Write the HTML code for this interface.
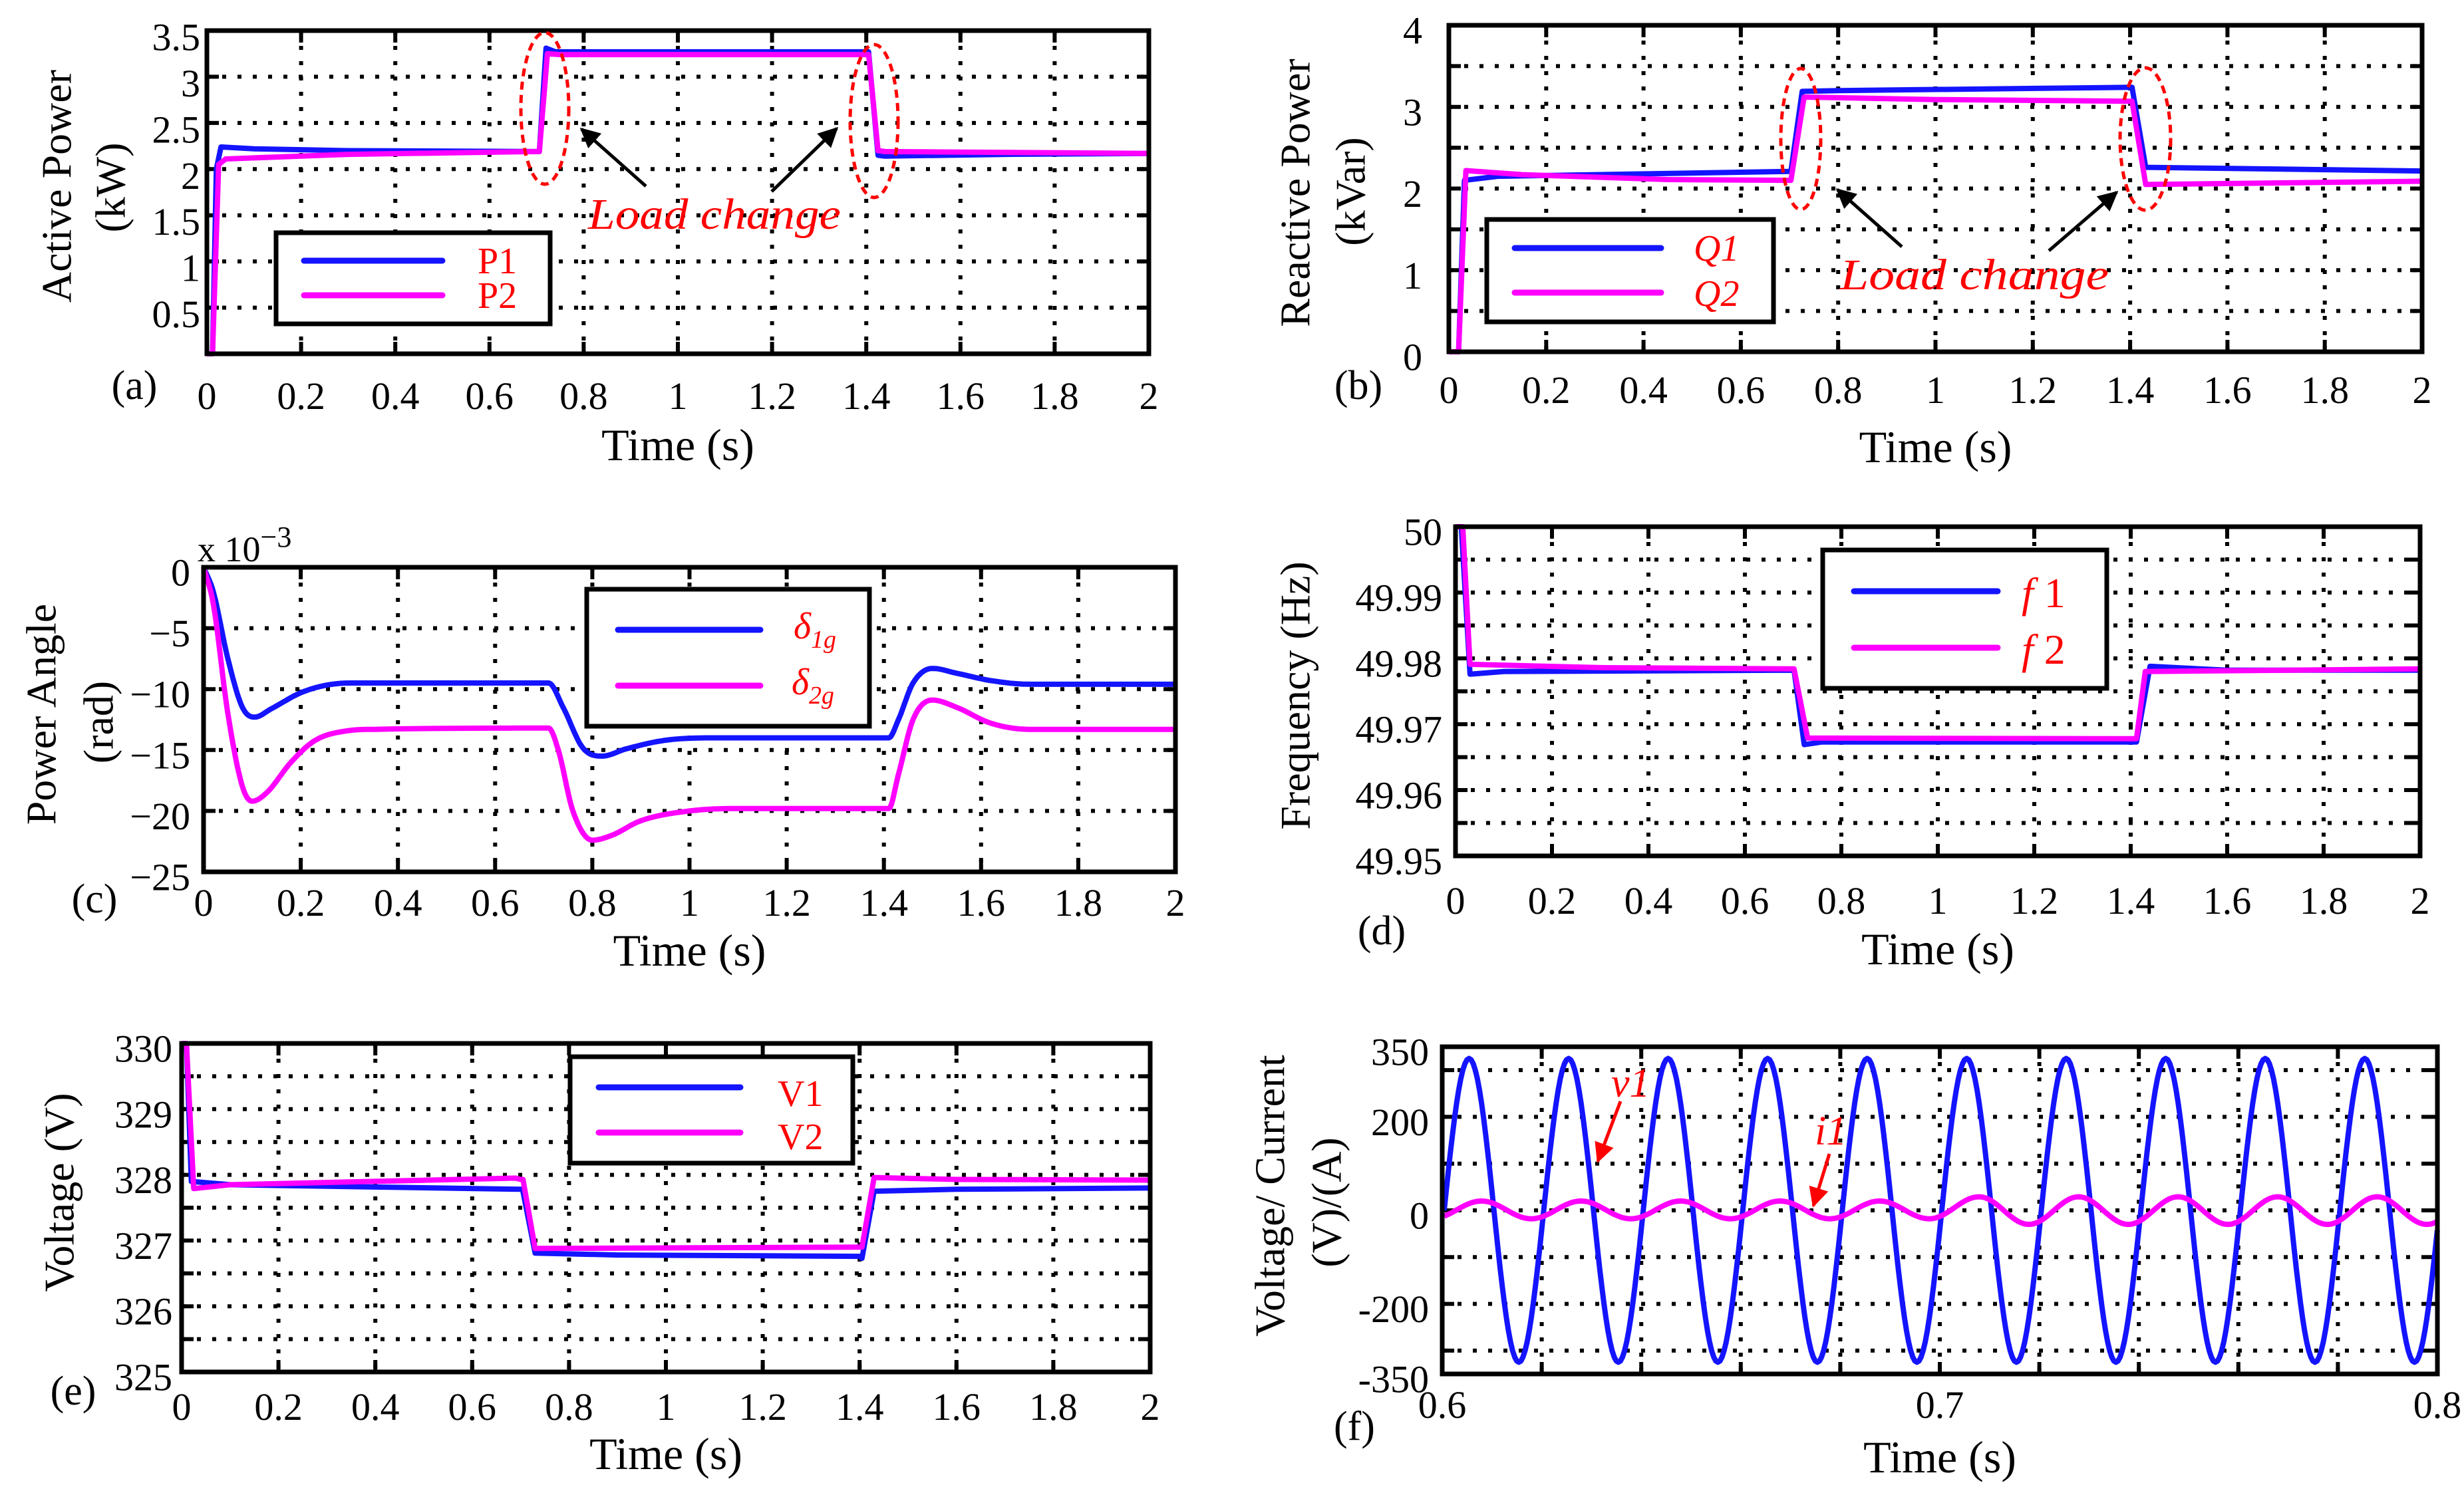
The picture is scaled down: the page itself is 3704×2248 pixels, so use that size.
<!DOCTYPE html>
<html><head><meta charset="utf-8"><style>
html,body{margin:0;padding:0;background:#fff;}
svg{display:block;font-family:"Liberation Serif","Times New Roman",serif;}
</style></head><body>
<svg id="fig" width="3704" height="2248" viewBox="0 0 3704 2248" xmlns="http://www.w3.org/2000/svg" font-family="Liberation Serif, serif">
<defs>
<marker id="ahk" viewBox="0 0 10 10" refX="9" refY="5" markerWidth="6" markerHeight="8" markerUnits="strokeWidth" orient="auto"><path d="M0,0 L10,5 L0,10 z" fill="#000"/></marker>
<marker id="ahr" viewBox="0 0 10 10" refX="9" refY="5" markerWidth="6" markerHeight="8" markerUnits="strokeWidth" orient="auto"><path d="M0,0 L10,5 L0,10 z" fill="#f00"/></marker>
</defs>
<rect x="0" y="0" width="3704" height="2248" fill="#fff"/>
</svg>
<script>
// ---------- data ----------
const xTicks02 = [0,0.2,0.4,0.6,0.8,1,1.2,1.4,1.6,1.8,2];
const xTickLabels02 = ['0','0.2','0.4','0.6','0.8','1','1.2','1.4','1.6','1.8','2'];
const xGrid02 = [0.2,0.4,0.6,0.8,1,1.2,1.4,1.6,1.8];

// (a) active power
const aYTicks = [0.5,1,1.5,2,2.5,3,3.5];
const aYTickLabels = ['0.5','1','1.5','2','2.5','3','3.5'];
const aYGrid = [0.5,1,1.5,2,2.5,3];
const aP1T = [0,0.012,0.02,0.03,0.1,0.3,0.7,0.706,0.72,0.74,1.0,1.4,1.405,1.425,1.44,1.7,2];
const aP1V = [0,0,2.0,2.24,2.22,2.2,2.19,2.19,3.31,3.27,3.27,3.27,3.27,2.15,2.14,2.16,2.17];
const aP2T = [0,0.012,0.025,0.04,0.3,0.7,0.706,0.723,0.75,1.4,1.405,1.425,1.44,2];
const aP2V = [0,0,2.05,2.11,2.16,2.19,2.19,3.25,3.24,3.24,3.24,2.2,2.19,2.17];

// (b) reactive power
const bYTicks = [0,1,2,3,4];
const bYTickLabels = ['0','1','2','3','4'];
const bYGrid = [0.5,1,1.5,2,2.5,3,3.5];
const bQ1T = [0,0.02,0.032,0.1,0.7,0.703,0.726,0.8,1.4,1.404,1.432,2];
const bQ1V = [0,0,2.1,2.15,2.21,2.21,3.19,3.2,3.24,3.24,2.26,2.215];
const bQ2T = [0,0.02,0.035,0.15,0.45,0.7,0.703,0.73,1.0,1.4,1.404,1.432,2];
const bQ2V = [0,0,2.22,2.17,2.11,2.1,2.1,3.12,3.09,3.07,3.07,2.05,2.09];

// (c) power angle (x 1e-3 rad)
const cYTicks = [0,-5,-10,-15,-20,-25];
const cYTickLabels = ['0','\u22125','\u221210','\u221215','\u221220','\u221225'];
const cYGrid = [-5,-10,-15,-20];
const cD1T = [0,0.02,0.05,0.08,0.105,0.14,0.2,0.25,0.3,0.71,0.74,0.78,0.82,0.87,0.95,1.05,1.41,1.43,1.46,1.5,1.55,1.62,1.7,2];
const cD1V = [0,-2,-7.5,-11.5,-12.3,-11.6,-10.3,-9.7,-9.5,-9.5,-11.5,-14.8,-15.5,-14.9,-14.2,-14.0,-14.0,-12.5,-9.5,-8.3,-8.7,-9.3,-9.6,-9.6];
const cD2T = [0,0.02,0.05,0.08,0.1,0.13,0.18,0.23,0.3,0.35,0.71,0.73,0.76,0.8,0.84,0.9,1.0,1.1,1.41,1.43,1.46,1.5,1.55,1.62,1.7,2];
const cD2V = [0,-3,-12,-18,-19.2,-18.5,-16,-14.2,-13.4,-13.3,-13.2,-15,-20,-22.4,-22,-20.8,-20,-19.8,-19.8,-17,-12.5,-10.9,-11.5,-12.8,-13.3,-13.3];

// (d) frequency
const dYTicks = [50,49.99,49.98,49.97,49.96,49.95];
const dYTickLabels = ['50','49.99','49.98','49.97','49.96','49.95'];
const dYGrid = [49.955,49.96,49.965,49.97,49.975,49.98,49.985,49.99,49.995];
const dF1T = [0,0.012,0.03,0.1,0.7,0.702,0.723,0.76,1.41,1.412,1.44,1.6,2];
const dF1V = [50,50,49.9776,49.978,49.9782,49.9782,49.9669,49.9673,49.9673,49.9673,49.9788,49.9782,49.9782];
const dF2T = [0,0.015,0.03,0.3,0.7,0.702,0.73,1.41,1.412,1.43,2];
const dF2V = [50,50,49.9791,49.9786,49.9784,49.9784,49.9679,49.9678,49.9678,49.978,49.9784];

// (e) voltage
const eYTicks = [325,326,327,328,329,330];
const eYTickLabels = ['325','326','327','328','329','330'];
const eYGrid = [325.5,326,326.5,327,327.5,328,328.5,329,329.5];
const eV1T = [0,0.01,0.02,0.1,0.7,0.704,0.73,0.9,1.4,1.405,1.43,1.6,2];
const eV1V = [330,330,327.9,327.85,327.78,327.78,326.81,326.78,326.76,326.73,327.75,327.78,327.8];
const eV2T = [0,0.01,0.025,0.1,0.69,0.7,0.705,0.73,1.4,1.405,1.43,1.6,2];
const eV2V = [330,330,327.79,327.85,327.95,327.93,327.93,326.88,326.9,326.9,327.96,327.93,327.92];

// (f) voltage / current waveforms (extrema)
const fXTicks = [0.6,0.7,0.8];
const fXTickLabels = ['0.6','0.7','0.8'];
const fXGrid = [0.62,0.64,0.66,0.68,0.7,0.72,0.74,0.76,0.78];
const fYTicks = [350,200,0,-200,-350];
const fYTickLabels = ['350','200','0','-200','-350'];
const fYGrid = [300,200,100,0,-100,-200,-300];
const fVExtT = [0.5954,0.6054,0.6154,0.6254,0.6354,0.6454,0.6554,0.6654,0.6754,0.6854,0.6954,0.7054,0.7154,0.7254,0.7354,0.7454,0.7554,0.7654,0.7754,0.7854,0.7954,0.8054];
const fVExtV = [-325,325,-325,325,-325,325,-325,325,-325,325,-325,325,-325,325,-325,325,-325,325,-325,325,-325,325];
const fIExtT = [0.5979,0.6079,0.6179,0.6279,0.6379,0.6479,0.6579,0.6679,0.6779,0.6879,0.6979,0.7079,0.7179,0.7279,0.7379,0.7479,0.7579,0.7679,0.7779,0.7879,0.7979,0.8079];
const fIExtV = [-18,20,-18,20,-18,20,-18,20,-18,20,-18,29,-30,29,-30,29,-30,29,-30,29,-30,29];

// ---------- drawing ----------
const NS='http://www.w3.org/2000/svg';
const svg=document.getElementById('fig');
function mk(tag, parent){const e=document.createElementNS(NS,tag);(parent||svg).appendChild(e);return e;}
function set(e,o){for(const k in o)e.setAttribute(k,o[k]);return e;}
const BLUE='#1414ff', MAG='#ff00ff', RED='#ff0000';
const TICKFS=58, TITLEFS=68, YLABFS=64, LW=8;

function axesFns(p){
  return {
    sx:t=>p.L+(t-p.x0)/(p.x1-p.x0)*(p.R-p.L),
    sy:v=>p.B-(v-p.y0)/(p.y1-p.y0)*(p.B-p.T)
  };
}
function drawAxes(p){
  const g=mk('g');
  
  
  const f=axesFns(p);
  p.xg.forEach(v=>{const l=mk('line',g);set(l,{x1:f.sx(v),x2:f.sx(v),y1:p.T,y2:p.B,stroke:'#000','stroke-width':6,'stroke-dasharray':'6 17'});
    
    });
  p.yg.forEach(v=>{const l=mk('line',g);set(l,{x1:p.L,x2:p.R,y1:f.sy(v),y2:f.sy(v),stroke:'#000','stroke-width':6,'stroke-dasharray':'6 17'});
    
    });
  p.xg.forEach(v=>{[[p.B,p.B-18],[p.T,p.T+18]].forEach(a=>{const l=mk('line',g);set(l,{x1:f.sx(v),x2:f.sx(v),y1:a[0],y2:a[1],stroke:'#000','stroke-width':6});
    
    });});
  p.yg.forEach(v=>{[[p.L,p.L+18],[p.R,p.R-18]].forEach(a=>{const l=mk('line',g);set(l,{x1:a[0],x2:a[1],y1:f.sy(v),y2:f.sy(v),stroke:'#000','stroke-width':6});
    
    });});
  p.xt.forEach((v,i)=>{const t=mk('text',g);set(t,{x:f.sx(v),y:p.xlabBase,'text-anchor':'middle','font-size':TICKFS});t.textContent=p.xtl[i];
    
    });
  p.yt.forEach((v,i)=>{const t=mk('text',g);set(t,{x:p.L-p.ylabGap,y:f.sy(v)+p.ylabDy,'text-anchor':'end','font-size':TICKFS,'dominant-baseline':'central'});t.textContent=p.ytl[i];
    
    });
  const xt=mk('text',g);set(xt,{x:(p.L+p.R)/2,y:p.titleBase,'text-anchor':'middle','font-size':TITLEFS});xt.textContent='Time (s)';
  
  
  p.ylab.forEach(o=>{const t=mk('text',g);set(t,{x:0,y:0,'text-anchor':'middle','dominant-baseline':'central','font-size':YLABFS,transform:`translate(${o.x},${o.y}) rotate(-90)`});t.textContent=o.s;
    
    });
  const pl=mk('text',g);set(pl,{x:p.letter[0],y:p.letter[1],'text-anchor':'middle','font-size':62});pl.textContent=p.letter[2];
  
  
  return f;
}
function drawBox(p){
  const r=mk('rect');set(r,{x:p.L,y:p.T,width:p.R-p.L,height:p.B-p.T,fill:'none',stroke:'#000','stroke-width':7});
  
  
}
function linePath(f,T,V){return T.map((t,i)=>(i?'L':'M')+f.sx(t).toFixed(1)+','+f.sy(V[i]).toFixed(1)).join('');}
function monoPath(f,T,V){
  const n=T.length,d=[],m=new Array(n);
  for(let i=0;i<n-1;i++)d.push((V[i+1]-V[i])/(T[i+1]-T[i]));
  m[0]=d[0];m[n-1]=d[n-2];
  for(let i=1;i<n-1;i++){m[i]=(d[i-1]*d[i]<=0)?0:(d[i-1]+d[i])/2;}
  for(let i=0;i<n-1;i++){if(d[i]===0){m[i]=0;m[i+1]=0;continue;}const a=m[i]/d[i],b=m[i+1]/d[i],s=a*a+b*b;if(s>9){const tt=3/Math.sqrt(s);m[i]=tt*a*d[i];m[i+1]=tt*b*d[i];}}
  let s='M'+f.sx(T[0]).toFixed(1)+','+f.sy(V[0]).toFixed(1);
  for(let i=0;i<n-1;i++){const h=T[i+1]-T[i];for(let k=1;k<=12;k++){const u=k/12,h00=2*u*u*u-3*u*u+1,h10=u*u*u-2*u*u+u,h01=-2*u*u*u+3*u*u,h11=u*u*u-u*u;
    const v=h00*V[i]+h10*h*m[i]+h01*V[i+1]+h11*h*m[i+1];s+='L'+f.sx(T[i]+u*h).toFixed(1)+','+f.sy(v).toFixed(1);}}
  return s;
}
function cosPath(f,T,V,t0,t1){
  let s='',first=true;
  for(let i=0;i<T.length-1;i++){for(let k=0;k<=24;k++){const u=k/24,t=T[i]+u*(T[i+1]-T[i]);if(t<t0||t>t1)continue;
    const v=V[i]+(V[i+1]-V[i])*(1-Math.cos(Math.PI*u))/2;s+=(first?'M':'L')+f.sx(t).toFixed(1)+','+f.sy(v).toFixed(1);first=false;}}
  return s;
}
function series(d,color,name){const p=mk('path');set(p,{d:d,fill:'none',stroke:color,'stroke-width':LW,'stroke-linejoin':'round'});
  
  }
function legend(x,y,w,h,items,name){
  const g=mk('g');
  
  
  const r=mk('rect',g);set(r,{x:x,y:y,width:w,height:h,fill:'#fff',stroke:'#000','stroke-width':7});
  
  
  items.forEach(it=>{const l=mk('line',g);set(l,{x1:it.x1,x2:it.x2,y1:it.y,y2:it.y,stroke:it.c,'stroke-width':9,'stroke-linecap':'round'});
    
    
    const t=mk('text',g);set(t,{x:it.tx,y:it.ty,fill:RED,'font-size':it.fs||56,'font-style':it.it?'italic':'normal'});t.innerHTML=it.s;
    
    });
}
function ellipse(cx,cy,rx,ry){const e=mk('ellipse');set(e,{cx:cx,cy:cy,rx:rx,ry:ry,fill:'none',stroke:RED,'stroke-width':5,'stroke-dasharray':'12 8'});
  
  }
function arrow(x1,y1,x2,y2,c,name){const l=mk('line');set(l,{x1:x1,y1:y1,x2:x2,y2:y2,stroke:c,'stroke-width':5,'marker-end':c==='#000'?'url(#ahk)':'url(#ahr)'});
  
  }
function label(x,y,s,fs,extra,name){const t=mk('text');set(t,Object.assign({x:x,y:y,fill:RED,'font-size':fs,'font-style':'italic'},extra||{}));t.textContent=s;
  
  }

// ----- panel a -----
const pa={name:'active-power',L:311,R:1727,T:46,B:532,x0:0,x1:2,y0:0,y1:3.5,xg:xGrid02,yg:aYGrid,xt:xTicks02,xtl:xTickLabels02,yt:aYTicks,ytl:aYTickLabels,
  xlabBase:615,ylabGap:10,ylabDy:10,titleBase:692,ylab:[{x:85,y:280,s:'Active Power'},{x:166,y:282,s:'(kW)'}],letter:[202,600,'(a)']};
const fa=drawAxes(pa);
series(linePath(fa,aP1T,aP1V),BLUE,'p1-line');
series(linePath(fa,aP2T,aP2V),MAG,'p2-line');
drawBox(pa);
legend(415,350,412,137,[{x1:457,x2:665,y:392,c:BLUE,tx:718,ty:411,s:'P1'},{x1:457,x2:665,y:444,c:MAG,tx:718,ty:463,s:'P2'}],'legend-a');
ellipse(819,163,36,114);ellipse(1314,182,36,115);
arrow(971,280,874,194,'#000','arrow-a1');arrow(1160,288,1258,193,'#000','arrow-a2');
label(884,344,'Load change',66,{textLength:380,lengthAdjust:'spacingAndGlyphs'},'load-change-label-a');

// ----- panel b -----
const pb={name:'reactive-power',L:2178,R:3641,T:38,B:529,x0:0,x1:2,y0:0,y1:4,xg:xGrid02,yg:bYGrid,xt:xTicks02,xtl:xTickLabels02,yt:bYTicks,ytl:bYTickLabels,
  xlabBase:606,ylabGap:40,ylabDy:8,titleBase:695,ylab:[{x:1947,y:290,s:'Reactive Power'},{x:2030,y:288,s:'(kVar)'}],letter:[2042,600,'(b)']};
const fb=drawAxes(pb);
series(linePath(fb,bQ1T,bQ1V),BLUE,'q1-line');
series(linePath(fb,bQ2T,bQ2V),MAG,'q2-line');
drawBox(pb);
legend(2235,330,431,154,[{x1:2277,x2:2497,y:373,c:BLUE,tx:2546,ty:392,s:'Q1',it:true},{x1:2277,x2:2497,y:440,c:MAG,tx:2546,ty:460,s:'Q2',it:true}],'legend-b');
ellipse(2707,209,30,106);ellipse(3225,209,38,107);
arrow(2859,371,2762,285,'#000','arrow-b1');arrow(3080,377,3182,289,'#000','arrow-b2');
label(2766,435,'Load change',66,{textLength:404,lengthAdjust:'spacingAndGlyphs'},'load-change-label-b');

// ----- panel c -----
const pc={name:'power-angle',L:306,R:1767,T:853,B:1311,x0:0,x1:2,y0:-25,y1:0,xg:xGrid02,yg:cYGrid,xt:xTicks02,xtl:xTickLabels02,yt:cYTicks,ytl:cYTickLabels,
  xlabBase:1377,ylabGap:20,ylabDy:8,titleBase:1452,ylab:[{x:62,y:1074,s:'Power Angle'},{x:148,y:1086,s:'(rad)'}],letter:[142,1372,'(c)']};
const fc=drawAxes(pc);
series(monoPath(fc,cD1T,cD1V),BLUE,'delta1-line');
series(monoPath(fc,cD2T,cD2V),MAG,'delta2-line');
drawBox(pc);
legend(882,886,425,206,[{x1:929,x2:1143,y:947,c:BLUE,tx:1193,ty:960,s:'δ<tspan font-size="38" dy="14">1g</tspan>',it:true},{x1:929,x2:1143,y:1031,c:MAG,tx:1190,ty:1044,s:'δ<tspan font-size="38" dy="14">2g</tspan>',it:true}],'legend-c');
(function(){const t=mk('text');set(t,{x:297,y:844,'font-size':54});t.innerHTML='x 10<tspan dy="-22" font-size="44">\u22123</tspan>';
  
  })();

// ----- panel d -----
const pd={name:'frequency',L:2188,R:3638,T:792,B:1287,x0:0,x1:2,y0:49.95,y1:50,xg:xGrid02,yg:dYGrid,xt:xTicks02,xtl:xTickLabels02,yt:dYTicks,ytl:dYTickLabels,
  xlabBase:1374,ylabGap:20,ylabDy:8,titleBase:1450,ylab:[{x:1947,y:1046,s:'Frequency (Hz)'}],letter:[2077,1420,'(d)']};
const fd=drawAxes(pd);
series(linePath(fd,dF1T,dF1V),BLUE,'f1-line');
series(linePath(fd,dF2T,dF2V),MAG,'f2-line');
drawBox(pd);
legend(2740,827,427,208,[{x1:2787,x2:3003,y:889,c:BLUE,tx:3039,ty:913,s:'<tspan font-style="italic">f</tspan><tspan font-style="normal"> 1</tspan>',fs:64},{x1:2787,x2:3003,y:974,c:MAG,tx:3039,ty:998,s:'<tspan font-style="italic">f</tspan><tspan font-style="normal"> 2</tspan>',fs:64}],'legend-d');

// ----- panel e -----
const pe={name:'voltage',L:273,R:1729,T:1569,B:2063,x0:0,x1:2,y0:325,y1:330,xg:xGrid02,yg:eYGrid,xt:xTicks02,xtl:xTickLabels02,yt:eYTicks,ytl:eYTickLabels,
  xlabBase:2135,ylabGap:14,ylabDy:8,titleBase:2209,ylab:[{x:89,y:1793,s:'Voltage (V)'}],letter:[110,2112,'(e)']};
const fe=drawAxes(pe);
series(linePath(fe,eV1T,eV1V),BLUE,'v1-line');
series(linePath(fe,eV2T,eV2V),MAG,'v2-line');
drawBox(pe);
legend(857,1589,425,160,[{x1:900,x2:1113,y:1635,c:BLUE,tx:1169,ty:1663,s:'V1'},{x1:900,x2:1113,y:1703,c:MAG,tx:1169,ty:1728,s:'V2'}],'legend-e');

// ----- panel f -----
const pf={name:'waveforms',L:2168,R:3664,T:1574,B:2066,x0:0.6,x1:0.8,y0:-350,y1:350,xg:fXGrid,yg:fYGrid,xt:fXTicks,xtl:fXTickLabels,yt:fYTicks,ytl:fYTickLabels,
  xlabBase:2132,ylabGap:20,ylabDy:8,titleBase:2214,ylab:[{x:1909,y:1798,s:'Voltage/ Current'},{x:1994,y:1808,s:'(V)/(A)'}],letter:[2036,2165,'(f)']};
const ff=drawAxes(pf);
series(cosPath(ff,fVExtT,fVExtV,0.6,0.8),BLUE,'v1-waveform');
series(cosPath(ff,fIExtT,fIExtV,0.6,0.8),MAG,'i1-waveform');
drawBox(pf);
label(2422,1649,'v1',62,{},'v1-annotation');
label(2728,1721,'i1',62,{},'i1-annotation');
arrow(2436,1656,2402,1746,RED,'arrow-v1');arrow(2750,1735,2726,1813,RED,'arrow-i1');
</script>
</body></html>
